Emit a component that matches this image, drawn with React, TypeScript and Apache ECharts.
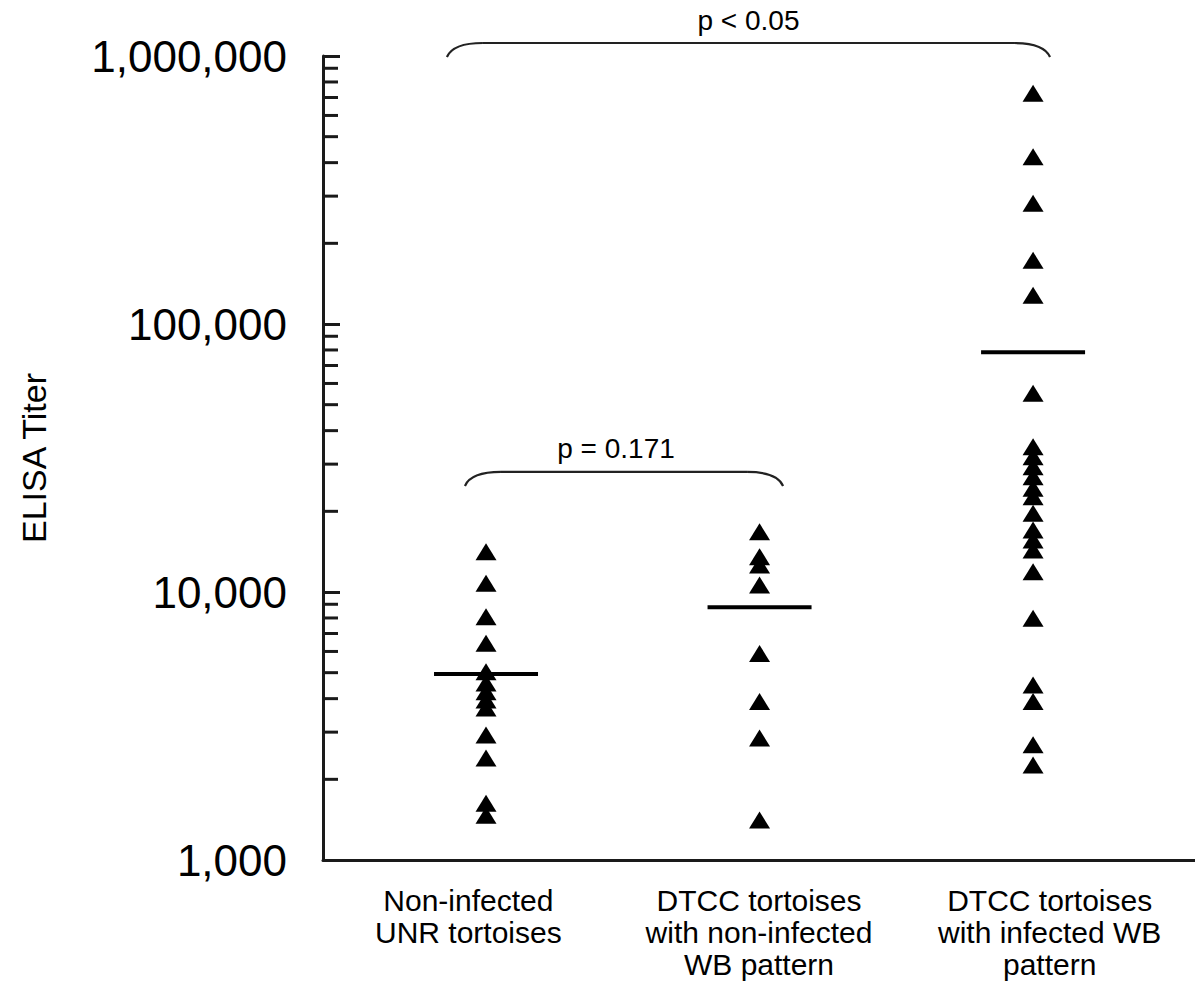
import React, { useEffect, useRef } from "react";
import * as echarts from "echarts";

// ---- Data ----
const categoryLabels = [
  "Non-infected\nUNR tortoises",
  "DTCC tortoises\nwith non-infected\nWB pattern",
  "DTCC tortoises\nwith infected WB\npattern",
];
const groupPositions = [1, 2, 3];

const nonInfectedUNR = [14130, 10780, 8090, 6440, 5040, 4580, 4240, 3950, 3690, 2930, 2400, 1630, 1470];
const dtccNonInfectedWB = [16790, 13550, 12610, 10620, 5900, 3900, 2850, 1410];
const dtccInfectedWB = [
  726000, 421000, 282000, 173000, 128000, 55100, 34850, 31980, 29350, 26930, 24370,
  22680, 19670, 17030, 15630, 14350, 11900, 7980, 4500, 3900, 2690, 2260,
];
const medians = [4940, 8770, 78400];

const yTickLabels = ["1,000", "10,000", "100,000", "1,000,000"];
const minorTickValues = [
  2000, 3000, 4000, 5000, 6000, 7000, 8000, 9000,
  20000, 30000, 40000, 50000, 60000, 70000, 80000, 90000,
  200000, 300000, 400000, 500000, 600000, 700000, 800000, 900000,
];

// significance brackets: [from x, to x, y level]
const bracketFrom = [0.857, 0.923];
const bracketTo = [3.062, 2.086];
const bracketLevel = [1118000, 28050];
const bracketLabels = ["p < 0.05", "p = 0.171"];

const X_MIN = 0.404;
const X_MAX = 3.592;
const FONT = "'Liberation Sans', Arial, Helvetica, sans-serif";
const INK = "#000";

export default function App() {
  const ref = useRef<HTMLDivElement>(null);

  useEffect(() => {
    if (!ref.current) return;
    const chart = echarts.init(ref.current, null, { renderer: "svg" });

    const groups = [nonInfectedUNR, dtccNonInfectedWB, dtccInfectedWB];
    const pointData: number[][] = [];
    groups.forEach((g, i) => g.forEach((v) => pointData.push([groupPositions[i], v])));

    const option: any = {
      animation: false,
      backgroundColor: "#fff",
      grid: { left: 323, right: 0, top: 56, bottom: 123, containLabel: false },
      xAxis: [
        {
          type: "value",
          min: X_MIN,
          max: X_MAX,
          position: "bottom",
          axisLine: { show: true, onZero: false, lineStyle: { color: "#1a1a1a", width: 3 } },
          axisTick: { show: false },
          axisLabel: { show: false },
          splitLine: { show: false },
        },
        {
          type: "category",
          data: categoryLabels,
          position: "bottom",
          gridIndex: 0,
          axisLine: { show: false },
          axisTick: { show: false },
          splitLine: { show: false },
          axisLabel: {
            interval: 0,
            margin: 24,
            fontFamily: FONT,
            fontSize: 30,
            lineHeight: 32,
            color: INK,
            align: "center",
          },
        },
      ],
      yAxis: {
        type: "log",
        logBase: 10,
        min: 1000,
        max: 1000000,
        name: "ELISA Titer",
        nameLocation: "middle",
        nameGap: 272,
        nameTextStyle: { fontFamily: FONT, fontSize: 34, color: INK },
        axisLine: { show: true, lineStyle: { color: "#1a1a1a", width: 3 } },
        axisTick: { show: true, inside: true, length: 17, lineStyle: { color: "#1a1a1a", width: 3 } },
        splitLine: { show: false },
        minorTick: { show: false },
        axisLabel: {
          margin: 36,
          fontFamily: FONT,
          fontSize: 44,
          color: INK,
          formatter: (v: number) => {
            const idx = Math.round(Math.log10(v)) - 3;
            return yTickLabels[idx] ?? String(v);
          },
        },
      },
      series: [
        {
          type: "custom",
          name: "minorTicks",
          xAxisIndex: 0,
          clip: false,
          silent: true,
          encode: { x: 0, y: 1 },
          data: minorTickValues.map((v) => [X_MIN, v]),
          renderItem: (params: any, api: any) => {
            const p = api.coord([api.value(0), api.value(1)]);
            return {
              type: "line",
              shape: { x1: p[0], y1: p[1], x2: p[0] + 15, y2: p[1] },
              style: { stroke: "#1a1a1a", lineWidth: 3 },
            };
          },
        },
        {
          type: "scatter",
          name: "titers",
          xAxisIndex: 0,
          symbol: "triangle",
          symbolSize: [21, 17],
          itemStyle: { color: "#000", opacity: 1 },
          data: pointData,
          z: 3,
        },
        {
          type: "scatter",
          name: "medians",
          xAxisIndex: 0,
          symbol: "rect",
          symbolSize: [104, 4],
          itemStyle: { color: "#000", opacity: 1 },
          data: medians.map((m, i) => [groupPositions[i], m]),
          z: 4,
        },
        {
          type: "custom",
          name: "brackets",
          xAxisIndex: 0,
          clip: false,
          silent: true,
          encode: { x: [0, 1], y: 2 },
          data: bracketLevel.map((lv, i) => [bracketFrom[i], bracketTo[i], lv]),
          renderItem: (params: any, api: any) => {
            const i = params.dataIndex;
            const p1 = api.coord([api.value(0), api.value(2)]);
            const p2 = api.coord([api.value(1), api.value(2)]);
            const drop = 14;
            const curve = 36;
            const stroke = "#222";
            return {
              type: "group",
              children: [
                {
                  type: "bezierCurve",
                  shape: { x1: p1[0], y1: p1[1] + drop, cpx1: p1[0] + 6, cpy1: p1[1], x2: p1[0] + curve, y2: p1[1] },
                  style: { stroke, lineWidth: 2.2, fill: null },
                },
                {
                  type: "line",
                  shape: { x1: p1[0] + curve, y1: p1[1], x2: p2[0] - curve, y2: p2[1] },
                  style: { stroke, lineWidth: 2.2 },
                },
                {
                  type: "bezierCurve",
                  shape: { x1: p2[0] - curve, y1: p2[1], cpx1: p2[0] - 6, cpy1: p2[1], x2: p2[0], y2: p2[1] + drop },
                  style: { stroke, lineWidth: 2.2, fill: null },
                },
                {
                  type: "text",
                  x: (p1[0] + p2[0]) / 2 - (i === 1 ? 8 : 0),
                  y: p1[1] - 9,
                  style: {
                    text: bracketLabels[i],
                    align: "center",
                    verticalAlign: "bottom",
                    fontFamily: FONT,
                    fontSize: 28,
                    fill: INK,
                  },
                },
              ],
            };
          },
        },
      ],
    };

    chart.setOption(option);
    return () => chart.dispose();
  }, []);

  return (
    <div
      ref={ref}
      style={{ position: "absolute", left: 0, top: 0, width: 1195, height: 983, background: "#fff" }}
    />
  );
}
